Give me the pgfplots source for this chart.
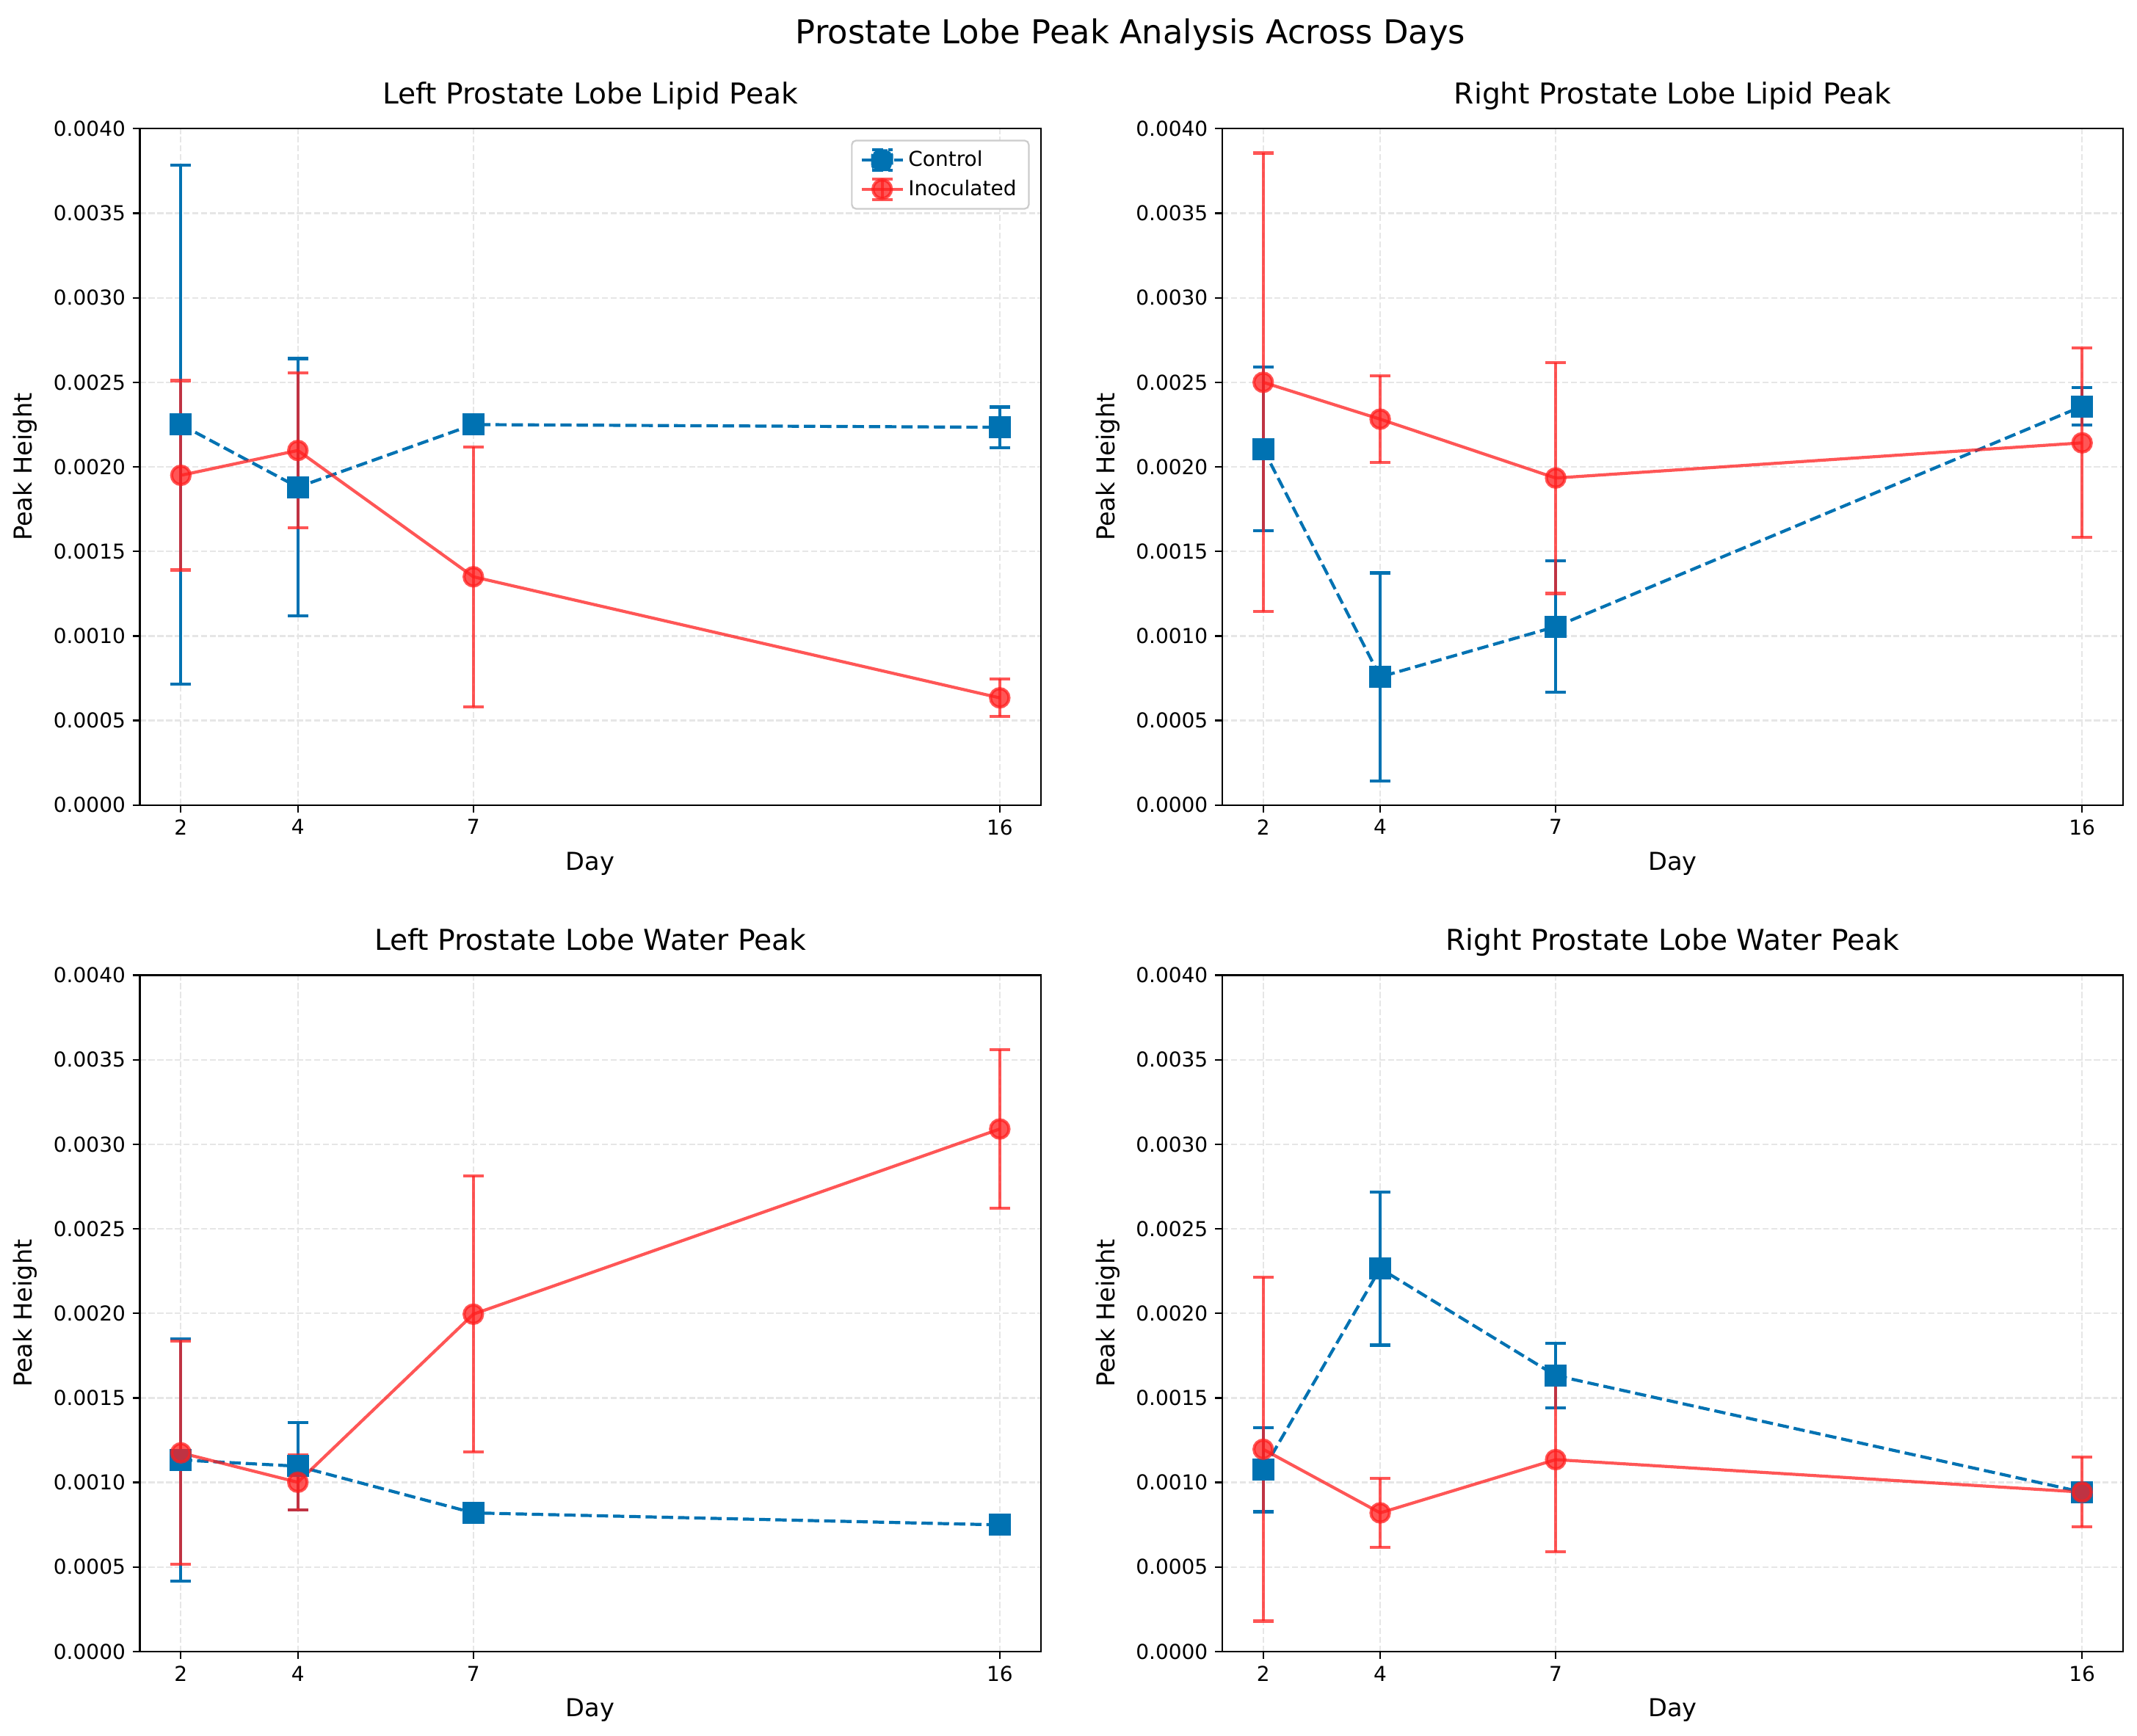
\documentclass[border=0pt]{standalone}
\usepackage{fontspec}
\setmainfont{DejaVu Sans}
\usepackage{pgfplots}
\usepackage{pgfplotstable}
\pgfplotsset{compat=1.18}

\definecolor{cblue}{RGB}{0,114,178}
\definecolor{cred}{RGB}{255,30,30}
\definecolor{gridc}{RGB}{230,230,230}

% day, control mean, control sd, inoculated mean, inoculated sd
\pgfplotstableread{
day c        ce       i        ie
2   0.00225  0.001535 0.00195  0.00056
4   0.00188  0.00076  0.002097 0.000457
7   0.00225  0.00004  0.00135  0.000768
16  0.002234 0.00012  0.000634 0.00011
}\leftlipid
\pgfplotstableread{
day c        ce       i        ie
2   0.002105 0.000484 0.0025   0.001356
4   0.000758 0.000615 0.002282 0.000255
7   0.001055 0.000388 0.001934 0.000683
16  0.002358 0.00011  0.002142 0.00056
}\rightlipid
\pgfplotstableread{
day c        ce       i        ie
2   0.001133 0.000716 0.001175 0.00066
4   0.001096 0.000257 0.001001 0.000163
7   0.00082  0.00003  0.001995 0.000816
16  0.000749 0.00003  0.00309  0.000468
}\leftwater
\pgfplotstableread{
day c        ce       i        ie
2   0.001075 0.000248 0.001196 0.001016
4   0.002265 0.000453 0.00082  0.000203
7   0.001632 0.00019  0.001135 0.000546
16  0.000943 0.00004  0.000943 0.000207
}\rightwater

\pgfplotsset{
  panel/.style={
    scale only axis, width=438.2pt, height=329.1pt, anchor=south west,
    xmin=1.3, xmax=16.7, ymin=0, ymax=0.004,
    xtick={2,4,7,16},
    ytick={0,0.0005,0.001,0.0015,0.002,0.0025,0.003,0.0035,0.004},
    scaled y ticks=false,
    /pgf/number format/assume math mode=true,
    yticklabel style={/pgf/number format/fixed,/pgf/number format/fixed zerofill,/pgf/number format/precision=4},
    tick label style={font=\fontsize{10}{12}\selectfont},
    tick align=outside, tick pos=left, major tick length=3.5pt,
    every tick/.style={black, line width=0.8pt},
    axis line style={line width=0.8pt},
    grid=major,
    grid style={gridc, line width=0.8pt, dash pattern=on 2.96pt off 1.28pt},
    xlabel={Day}, ylabel={Peak Height},
    label style={font=\fontsize{12}{14}\selectfont},
    xlabel style={at={([yshift=-31.8pt]axis description cs:0.5,0)}, anchor=base},
    ylabel style={at={([xshift=-52.4pt]axis description cs:0,0.5)}, anchor=base},
    title style={at={([yshift=6pt]axis description cs:0.5,1)}, anchor=base, font=\fontsize{14}{16}\selectfont},
  },
  ctrl/.style={
    cblue, line width=1.5pt, dash pattern=on 5.5pt off 2.4pt,
    mark=square*, mark size=4.6pt, mark options={solid, fill=cblue},
    legend image code/.code={
      \draw[line width=1.5pt, cblue] (0pt,0pt) -- (20pt,0pt);
      \draw[line width=1.5pt, cblue] (10pt,-5pt) -- (10pt,5pt) (5pt,-5pt) -- (15pt,-5pt) (5pt,5pt) -- (15pt,5pt);
      \fill[cblue] (5.4pt,-4.6pt) rectangle (14.6pt,4.6pt);
    },
    error bars/.cd, y dir=both, y explicit,
    error bar style={line width=1.5pt, solid, cblue},
    error mark options={rotate=90, mark size=5pt, line width=1.5pt, solid, cblue},
  },
  inoc/.style={
    cred, opacity=0.75, line width=1.5pt,
    mark=*, mark size=4.5pt, mark options={solid, fill=cred, opacity=0.75},
    legend image code/.code={
      \begin{scope}[opacity=0.75]
      \draw[line width=1.5pt, cred] (0pt,0pt) -- (20pt,0pt);
      \draw[line width=1.5pt, cred] (10pt,-5pt) -- (10pt,5pt) (5pt,-5pt) -- (15pt,-5pt) (5pt,5pt) -- (15pt,5pt);
      \fill[cred] (10pt,0pt) circle (4.5pt);
      \end{scope}
    },
    error bars/.cd, y dir=both, y explicit,
    error bar style={line width=1.5pt, solid, cred, opacity=0.75},
    error mark options={rotate=90, mark size=5pt, line width=1.5pt, solid, cred, opacity=0.75},
  },
}

\begin{document}
\begin{tikzpicture}
\useasboundingbox (0,0) rectangle (1039.6pt,844.6pt);

\node[anchor=base, font=\fontsize{16}{19}\selectfont] at (550pt,823.2pt) {Prostate Lobe Peak Analysis Across Days};

\begin{axis}[panel, at={(68.07pt,452.9pt)}, title={Left Prostate Lobe Lipid Peak},
  legend style={at={(1,1)}, anchor=north east, xshift=-5.4pt, yshift=-5.4pt,
    draw=black!20, line width=0.8pt, rounded corners=2pt, fill=white,
    font=\fontsize{10}{12}\selectfont, inner xsep=4pt, inner ysep=3pt, row sep=1pt},
  legend cell align=left]
\addplot[ctrl] table[x=day, y=c, y error=ce] {\leftlipid};
\addlegendentry{Control}
\addplot[inoc] table[x=day, y=i, y error=ie] {\leftlipid};
\addlegendentry{Inoculated}
\end{axis}

\begin{axis}[panel, at={(594.6pt,452.9pt)}, title={Right Prostate Lobe Lipid Peak}]
\addplot[ctrl] table[x=day, y=c, y error=ce] {\rightlipid};
\addplot[inoc] table[x=day, y=i, y error=ie] {\rightlipid};
\end{axis}

\begin{axis}[panel, at={(68.07pt,41.07pt)}, title={Left Prostate Lobe Water Peak}]
\addplot[ctrl] table[x=day, y=c, y error=ce] {\leftwater};
\addplot[inoc] table[x=day, y=i, y error=ie] {\leftwater};
\end{axis}

\begin{axis}[panel, at={(594.6pt,41.07pt)}, title={Right Prostate Lobe Water Peak}]
\addplot[ctrl] table[x=day, y=c, y error=ce] {\rightwater};
\addplot[inoc] table[x=day, y=i, y error=ie] {\rightwater};
\end{axis}
\end{tikzpicture}
\end{document}
